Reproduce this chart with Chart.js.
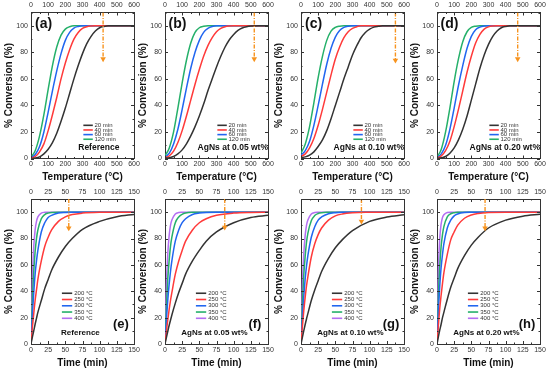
<!DOCTYPE html>
<html>
<head>
<meta charset="utf-8">
<script src="https://cdn.jsdelivr.net/npm/chart.js@4.4.0/dist/chart.umd.min.js"></script>
<style>
  body { margin: 0; background: #fff; width: 550px; height: 373px; position: relative; overflow: hidden; }
  canvas { position: absolute; }
</style>
</head>
<body>
<script>
// x values
const tempX = [0, 25, 50, 75, 100, 125, 150, 175, 200, 225, 250, 275, 300, 325, 350, 375, 400, 425, 450, 475, 500, 550, 600];
const timeX = [0, 2, 4, 6, 8, 10, 15, 20, 25, 30, 40, 50, 60, 75, 100, 125, 150];

// conversion vs temperature, one array per time
const a20  = [0, 0.3, 1.2, 3.5, 7, 12, 19, 28, 38, 49, 60, 70, 79, 86.5, 92, 96, 98.5, 99.5, 100, 100, 100, 100, 100];
const a40  = [0.3, 1.5, 5, 11, 21, 33, 46, 60, 72, 82, 90, 95, 98, 99.3, 99.8, 100, 100, 100, 100, 100, 100, 100, 100];
const a60  = [0.5, 3, 9, 20, 35, 51, 66, 79, 89, 95, 98.3, 99.5, 100, 100, 100, 100, 100, 100, 100, 100, 100, 100, 100];
const a120 = [1, 6, 17, 33, 52, 70, 84, 93, 97.5, 99.3, 100, 100, 100, 100, 100, 100, 100, 100, 100, 100, 100, 100, 100];

const b20  = [0.2, 0.6, 1.5, 3.5, 6.5, 11, 17, 24, 32, 41, 51, 60, 69, 77, 84, 89.5, 93.5, 96.5, 98.3, 99.3, 99.8, 100, 100];
const b40  = [0.5, 2, 5.5, 12, 21, 32, 44, 56, 67, 77, 85, 91, 95.5, 98, 99.3, 99.8, 100, 100, 100, 100, 100, 100, 100];
const b60  = [1, 4, 11, 22, 37, 53, 68, 80, 89, 95, 98, 99.4, 100, 100, 100, 100, 100, 100, 100, 100, 100, 100, 100];
const b120 = [2, 8, 20, 38, 57, 74, 87, 95, 98.5, 99.6, 100, 100, 100, 100, 100, 100, 100, 100, 100, 100, 100, 100, 100];

const c20  = [0.5, 1.2, 2.5, 5, 9, 14, 21, 30, 40, 50, 60, 69, 78, 85, 91, 95, 97.5, 99, 99.6, 100, 100, 100, 100];
const c40  = [1.5, 3.5, 8, 15, 25, 37, 50, 63, 75, 84, 91, 95.5, 98, 99.3, 100, 100, 100, 100, 100, 100, 100, 100, 100];
const c60  = [2.5, 6, 13, 25, 40, 56, 71, 83, 91.5, 96.5, 98.8, 99.7, 100, 100, 100, 100, 100, 100, 100, 100, 100, 100, 100];
const c120 = [4, 11, 24, 42, 61, 77, 89, 96, 98.8, 99.7, 100, 100, 100, 100, 100, 100, 100, 100, 100, 100, 100, 100, 100];

const d20  = [0, 0.5, 1.5, 4, 8, 14, 22, 32, 44, 56, 68, 78, 86, 92, 96, 98.5, 99.5, 100, 100, 100, 100, 100, 100];
const d40  = [0.3, 2, 6, 13, 24, 37, 51, 65, 77, 87, 93.5, 97.5, 99.2, 99.8, 100, 100, 100, 100, 100, 100, 100, 100, 100];
const d60  = [0.5, 3.5, 10, 22, 38, 55, 70, 83, 92, 97, 99, 99.8, 100, 100, 100, 100, 100, 100, 100, 100, 100, 100, 100];
const d120 = [1, 7, 20, 38, 58, 75, 88, 95.5, 98.8, 99.7, 100, 100, 100, 100, 100, 100, 100, 100, 100, 100, 100, 100, 100];

// conversion vs time, one array per temperature
const e200 = [0, 5.3, 10, 15, 19.5, 24, 33, 42, 49, 56, 66, 74, 80, 87, 93, 96.6, 98.3];
const e250 = [0, 12.5, 23, 33, 41, 49, 63, 74, 81, 86.5, 93, 96.4, 98.2, 99.3, 99.9, 100, 100];
const e300 = [0, 22, 39, 53, 63, 71, 85, 92, 96, 97.6, 99.3, 99.8, 100, 100, 100, 100, 100];
const e350 = [0, 33, 55, 70, 80, 86.5, 95, 98.2, 99.3, 99.8, 100, 100, 100, 100, 100, 100, 100];
const e400 = [0, 49, 74, 86.5, 93, 96.4, 99.3, 99.9, 100, 100, 100, 100, 100, 100, 100, 100, 100];

const f200 = [0, 4.9, 9.5, 14, 18, 22, 31, 39, 46, 53, 63, 71, 78, 85, 92, 96, 97.6];
const f250 = [0, 9.5, 18, 26, 33, 39, 53, 63, 71, 78, 86.5, 92, 95, 97.6, 99.3, 99.8, 99.9];
const f300 = [0, 18, 33, 45, 55, 63, 78, 86.5, 92, 95, 98.2, 99.3, 99.8, 100, 100, 100, 100];
const f350 = [0, 28, 49, 63, 74, 81, 92, 96.4, 98.4, 99.3, 99.9, 100, 100, 100, 100, 100, 100];
const f400 = [0, 44, 68, 82, 90, 94, 98.6, 99.7, 99.9, 100, 100, 100, 100, 100, 100, 100, 100];

const g200 = [0, 5.1, 10, 14.6, 19, 23, 33, 41, 48, 55, 65, 73, 79, 86, 93, 96.3, 98.1];
const g250 = [0, 13, 25, 35, 44, 51, 66, 76, 83, 88, 94, 97.2, 98.6, 99.5, 99.9, 100, 100];
const g300 = [0, 20, 36, 49, 59, 67, 81, 89, 94, 96.4, 98.8, 99.6, 99.9, 100, 100, 100, 100];
const g350 = [0, 30, 52, 66, 77, 84, 93.5, 97.4, 99, 99.6, 99.9, 100, 100, 100, 100, 100, 100];
const g400 = [0, 44, 68, 82, 90, 94, 98.6, 99.7, 99.9, 100, 100, 100, 100, 100, 100, 100, 100];

const h200 = [0, 5.4, 10.5, 15, 20, 24, 34, 43, 50, 57, 67, 75, 81, 88, 94, 97, 98.4];
const h250 = [0, 14, 27, 37, 46, 54, 68, 79, 85, 90, 95.4, 97.9, 99, 99.7, 100, 100, 100];
const h300 = [0, 25, 44, 58, 68, 76, 88, 94, 97.2, 98.6, 99.7, 99.9, 100, 100, 100, 100, 100];
const h350 = [0, 36, 59, 74, 83, 89, 96.4, 98.8, 99.6, 99.9, 100, 100, 100, 100, 100, 100, 100];
const h400 = [0, 55, 80, 91, 96, 98, 99.8, 100, 100, 100, 100, 100, 100, 100, 100, 100, 100];

// labels and texts
const timeLabels = ['20 min', '40 min', '60 min', '120 min'];
const tempLabels = ['200 °C', '250 °C', '300 °C', '350 °C', '400 °C'];
const panelLetters = ['(a)', '(b)', '(c)', '(d)', '(e)', '(f)', '(g)', '(h)'];
const captions = ['Reference', 'AgNs at 0.05 wt%', 'AgNs at 0.10 wt%', 'AgNs at 0.20 wt%'];
const yTicks = [0, 20, 40, 60, 80, 100];

// dashed arrows: x position and tip value
const arrowX   = [420, 520, 550, 470, 55, 87, 88, 70];
const arrowTip = [75, 75, 74, 75, 88, 88.5, 93, 88];

const timeColors = ['#333333', '#ff3a3a', '#2166f0', '#25b06a'];
const tempColors = ['#333333', '#ff3a3a', '#2166f0', '#25b06a', '#b46ef2'];
const orange = '#f7931e';
const FONT = 'Arial, "Liberation Sans", sans-serif';

const topSeries = [[a20, a40, a60, a120], [b20, b40, b60, b120], [c20, c40, c60, c120], [d20, d40, d60, d120]];
const botSeries = [[e200, e250, e300, e350, e400], [f200, f250, f300, f350, f400],
                   [g200, g250, g300, g350, g400], [h200, h250, h300, h350, h400]];

const colPlotLeft = [31, 165, 301, 437];

// draws inward ticks, the in-plot legend, panel letter and caption
const decor = {
  id: 'decor',
  afterDatasetsDraw(chart, args, o) {
    const { ctx, chartArea: a } = chart;
    const x = chart.scales.x, y = chart.scales.y;
    ctx.save();
    ctx.strokeStyle = '#333';
    ctx.lineWidth = 1;
    const seg = (x1, y1, x2, y2) => { ctx.beginPath(); ctx.moveTo(x1, y1); ctx.lineTo(x2, y2); ctx.stroke(); };
    for (let v = 0; v <= o.xMax + 1e-6; v += o.xMinor) {
      const px = Math.round(x.getPixelForValue(v)) + 0.5;
      const len = Math.abs(v / o.xMajor - Math.round(v / o.xMajor)) < 1e-6 ? 3 : 1.5;
      seg(px, a.bottom, px, a.bottom - len);
      seg(px, a.top, px, a.top + len);
    }
    for (let v = 0; v <= 110; v += 10) {
      const py = Math.round(y.getPixelForValue(v)) + 0.5;
      const len = v % 20 === 0 ? 3 : 1.5;
      seg(a.left, py, a.left + len, py);
      seg(a.right, py, a.right - len, py);
    }
    // legend
    ctx.lineWidth = 1.6;
    ctx.font = '6px ' + FONT;
    ctx.fillStyle = '#333';
    ctx.textBaseline = 'middle';
    ctx.textAlign = 'left';
    o.labels.forEach((lab, i) => {
      const py = y.getPixelForValue(o.legY0 - i * o.legStep);
      ctx.strokeStyle = o.colors[i];
      seg(x.getPixelForValue(o.legX0), py, x.getPixelForValue(o.legX1), py);
      ctx.fillText(lab, x.getPixelForValue(o.legText), py);
    });
    // panel letter
    ctx.fillStyle = '#111';
    ctx.textAlign = 'center';
    ctx.font = 'bold ' + o.letterSize + 'px ' + FONT;
    ctx.fillText(o.letter, x.getPixelForValue(o.letterX), y.getPixelForValue(o.letterY));
    // caption
    ctx.font = 'bold ' + o.capSize + 'px ' + FONT;
    ctx.fillText(o.caption, x.getPixelForValue(o.capX), y.getPixelForValue(o.capY));
    ctx.restore();
  }
};

function makePanel(i) {
  const top = i < 4;
  const col = i % 4;
  const xs = top ? tempX : timeX;
  const series = top ? topSeries[col] : botSeries[col];
  const colors = top ? timeColors : tempColors;
  const labels = top ? timeLabels : tempLabels;
  const xMax = top ? 600 : 150;
  const xMajor = top ? 100 : 25;

  const canvas = document.createElement('canvas');
  canvas.width = 146;
  canvas.height = top ? 185 : 188;
  canvas.style.left = (colPlotLeft[col] - 31) + 'px';
  canvas.style.top = (top ? 0 : 185) + 'px';
  document.body.appendChild(canvas);

  const datasets = series.map((vals, k) => ({
    label: labels[k],
    data: vals.map((v, j) => ({ x: xs[j], y: v })),
    borderColor: colors[k],
    borderWidth: 1.5,
    pointRadius: 0,
    fill: false,
    cubicInterpolationMode: 'monotone'
  }));
  datasets.push({
    label: 'arrow',
    data: [{ x: arrowX[i], y: 110 }, { x: arrowX[i], y: arrowTip[i] }],
    borderColor: orange,
    borderWidth: 1.4,
    borderDash: [4, 1.5, 1, 1.5],
    pointRadius: [0, 3.2],
    pointStyle: 'triangle',
    rotation: 180,
    pointBackgroundColor: orange,
    pointBorderColor: orange,
    pointBorderWidth: 0,
    order: -1
  });

  const tickFont = { family: FONT, size: 7 };
  const titleFont = { family: FONT, size: 10, weight: 'bold' };
  const topH = top ? 12.5 : 14;
  const botH = top ? 26.5 : 29;

  new Chart(canvas, {
    type: 'line',
    data: { datasets },
    options: {
      responsive: false,
      animation: false,
      layout: { padding: { left: 0, right: 8, top: 0, bottom: 0 } },
      plugins: {
        legend: { display: false },
        tooltip: { enabled: false },
        decor: {
          xMax, xMajor, xMinor: xMajor / 2,
          labels, colors,
          legX0: top ? 305 : 45, legX1: top ? 360 : 60, legText: top ? 370 : 63,
          legY0: top ? 25 : 38.5, legStep: top ? 3.5 : 4.75,
          letter: panelLetters[i], letterSize: top ? 14 : 13,
          letterX: top ? 73 : 131, letterY: top ? 101 : 15,
          caption: captions[col], capSize: top ? 8.5 : 8,
          capX: top ? 395 : 72, capY: top ? 8.5 : 8.5
        }
      },
      scales: {
        x: {
          type: 'linear', position: 'bottom', min: 0, max: xMax,
          ticks: { stepSize: xMajor, font: tickFont, color: '#333', padding: 1.5, maxRotation: 0, autoSkip: false, includeBounds: false },
          grid: { display: false, drawTicks: false },
          border: { color: '#333', width: 1 },
          title: { display: true, text: top ? 'Temperature (°C)' : 'Time (min)', font: titleFont, color: '#111', padding: { top: 0, bottom: top ? 2 : 4 } },
          afterFit: s => { s.height = botH; s.paddingLeft = 0; s.paddingRight = 0; }
        },
        x2: {
          axis: 'x', type: 'linear', position: 'top', min: 0, max: xMax,
          ticks: { stepSize: xMajor, font: tickFont, color: '#333', padding: 3, maxRotation: 0, autoSkip: false, includeBounds: false },
          grid: { display: false, drawTicks: false },
          border: { color: '#333', width: 1 },
          afterFit: s => { s.height = topH; s.paddingLeft = 0; s.paddingRight = 0; }
        },
        y: {
          type: 'linear', position: 'left', min: 0, max: 110,
          afterBuildTicks: s => { s.ticks = yTicks.map(v => ({ value: v })); },
          ticks: { font: tickFont, color: '#333', padding: 3 },
          grid: { display: false, drawTicks: false },
          border: { color: '#333', width: 1 },
          title: { display: true, text: '% Conversion (%)', font: titleFont, color: '#111', padding: { top: 3, bottom: 0 } },
          afterFit: s => { s.width = 31; s.paddingTop = 0; s.paddingBottom = 0; }
        },
        y2: {
          axis: 'y', type: 'linear', position: 'right', min: 0, max: 110,
          ticks: { display: false },
          grid: { display: false, drawTicks: false },
          border: { color: '#333', width: 1 },
          afterFit: s => { s.width = 4; s.paddingTop = 0; s.paddingBottom = 0; }
        }
      }
    },
    plugins: [decor]
  });
}

for (let i = 0; i < 8; i++) makePanel(i);
</script>
</body>
</html>
